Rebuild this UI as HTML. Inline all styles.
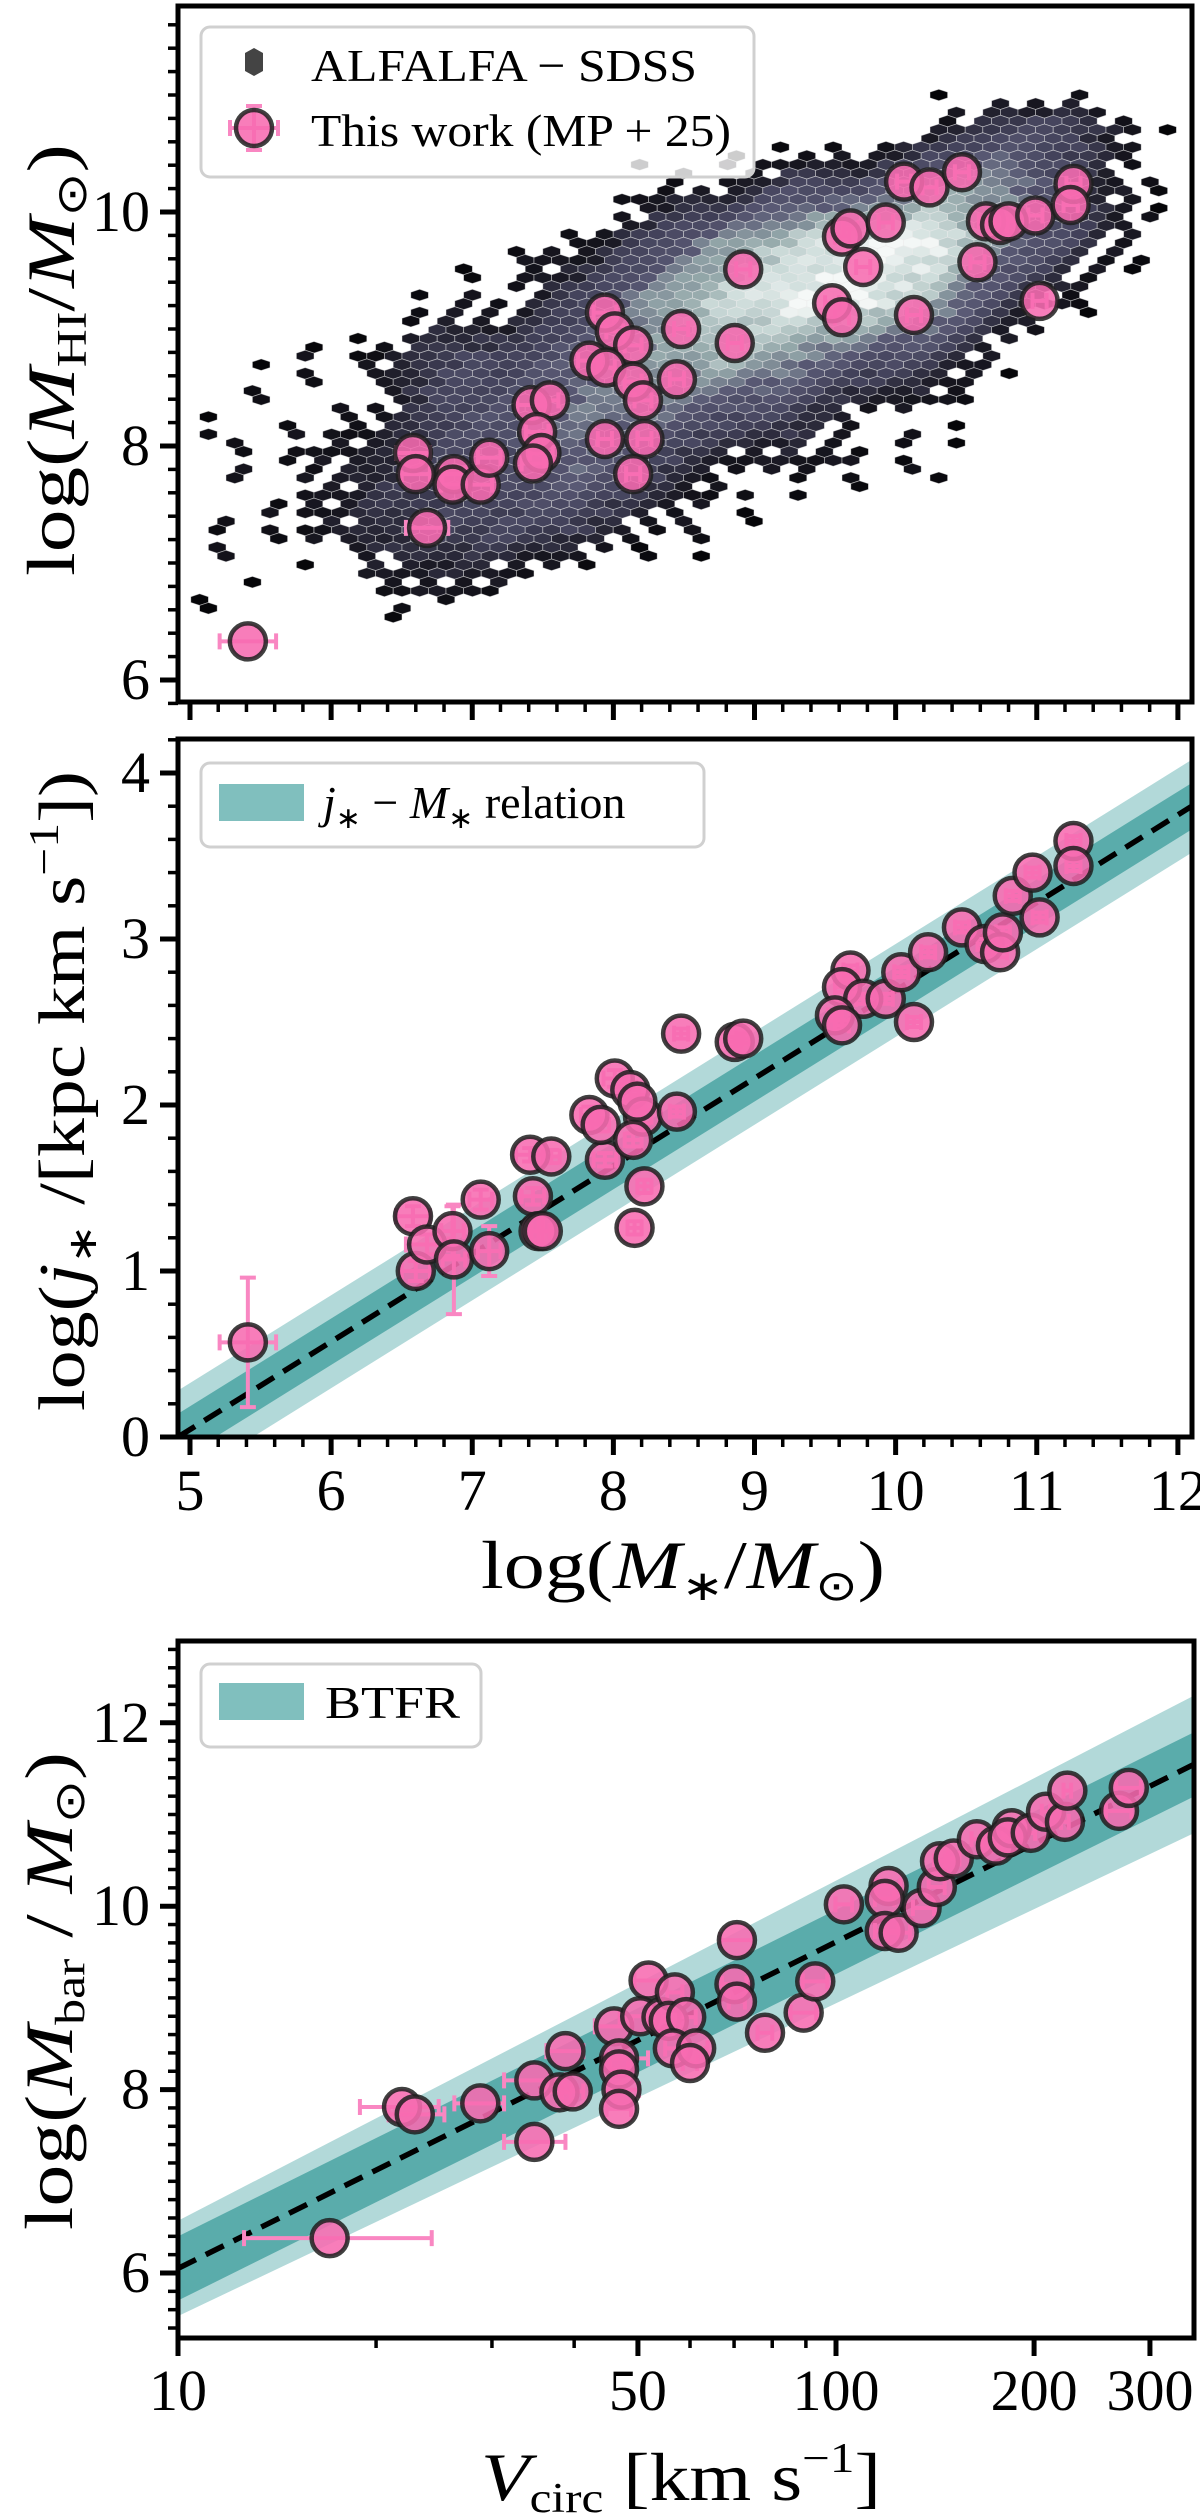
<!DOCTYPE html>
<html><head><meta charset="utf-8"><style>
html,body{margin:0;padding:0;background:#fff;}
svg{display:block;font-family:"Liberation Serif",serif;}
</style></head><body>
<svg id="fig" width="1200" height="2518" viewBox="0 0 1200 2518" xmlns="http://www.w3.org/2000/svg">
<g id="p1"></g>
<g id="p2"></g>
<g id="p3"></g>
</svg>
<script>
// ---------- DATA ----------
const mstar1 = [5.41,6.58,6.60,6.68,6.87,6.86,7.06,7.12,7.42,7.55,7.46,7.49,7.43,7.94,8.01,8.14,7.83,7.95,8.14,8.21,7.94,8.22,8.14,8.45,8.48,8.86,8.92,9.62,9.68,9.77,9.93,9.55,9.62,10.13,10.06,10.24,10.47,10.58,10.64,10.74,10.80,10.99,11.02,11.26,11.24];
const mhi1 = [6.33,7.94,7.76,7.30,7.76,7.67,7.67,7.90,8.35,8.39,8.12,7.94,7.85,9.14,8.98,8.86,8.73,8.67,8.55,8.39,8.06,8.06,7.76,8.57,9.00,8.88,9.51,9.79,9.86,9.53,9.91,9.22,9.10,9.12,10.26,10.21,10.34,9.57,9.92,9.89,9.92,9.97,9.24,10.24,10.06];
const xerr1 = [0.2,0.12,0.1,0.15,0.08,0.08,0.08,0.08,0.1,0.06,0.08,0.08,0.08,0.08,0.06,0.06,0.08,0.06,0.06,0.06,0.05,0.05,0.05,0.05,0.05,0.05,0.05,0.05,0.05,0.05,0.05,0.05,0.05,0.05,0.05,0.05,0.05,0.05,0.05,0.05,0.05,0.05,0.05,0.05,0.05];
const hexDensity = [
 [0,0,0,0,0,0,0,0,0,0,1,2,2,1],
 [0,0,0,0,0,0,1,1,2,2,3,3,2,1],
 [0,0,0,0,1,1,2,3,3.5,4,4,3,2,1],
 [0,0,0,1,1,2,3,3.6,4,4,3.4,2,1,0],
 [0,1,1,2,2,2.6,3,3.4,3,2.4,2,1,0,0],
 [1,1,1,2,2.4,2.8,2.8,2.2,2,1,1,0,0,0],
 [1,1,1.6,2,2.2,2.6,2,1,1,1,0.8,0,0,0],
 [1,1,1.6,2,2,1.8,1,1,0,0,0,0,0,0],
 [1,0,1,1.2,1,0,0,0,0,0,0,0,0,0],
 [0,0,0,0,0,0,0,0,0,0,0,0,0,0]];
const mstar2 = [5.41,6.58,6.60,6.68,6.86,6.87,7.06,7.12,7.41,7.56,7.43,7.47,7.50,8.01,8.12,7.83,7.94,7.91,8.21,8.14,8.22,8.15,8.17,8.48,8.45,8.86,8.92,9.68,9.62,9.77,9.93,9.57,9.62,10.13,10.04,10.23,10.47,10.63,10.74,10.76,10.83,10.97,11.02,11.26,11.26];
const jstar2 = [0.57,1.33,1.00,1.16,1.24,1.07,1.43,1.12,1.70,1.69,1.45,1.24,1.24,2.16,2.09,1.94,1.67,1.88,1.93,1.79,1.51,1.26,2.02,2.43,1.96,2.38,2.40,2.81,2.71,2.64,2.64,2.54,2.48,2.50,2.80,2.92,3.07,2.97,2.92,3.04,3.26,3.40,3.13,3.59,3.44];
const jerr2 = [0.39,0.06,0.06,0.06,0.15,0.33,0.06,0.15,0.04,0.04,0.05,0.08,0.08,0.05,0.05,0.05,0.04,0.04,0.04,0.04,0.04,0.04,0.04,0.03,0.03,0.03,0.03,0.03,0.03,0.03,0.03,0.03,0.03,0.03,0.03,0.03,0.03,0.03,0.03,0.03,0.03,0.03,0.03,0.03,0.03];
const relJ = {slope:0.529, zero:4.915, dark:0.14, light:0.28};
const vcirc3 = [17.0,21.9,22.9,28.8,34.8,34.8,38.8,38.0,39.8,46.0,46.8,46.8,47.2,46.8,51.9,50.4,54.3,56.9,55.7,59.2,56.5,61.3,60.0,70.7,70.1,70.7,78.0,89.3,93.0,102.8,120.2,118.6,118.6,124.5,134.9,142.3,143.9,151.0,163.7,175.0,184.9,182.4,197.7,208.5,222.8,224.7,269.2,278.6];
const mbar3 = [6.38,7.81,7.73,7.85,8.10,7.43,8.42,7.97,7.98,8.69,8.34,8.22,8.00,7.79,9.19,8.80,8.79,9.06,8.75,8.79,8.45,8.45,8.29,9.63,9.15,8.96,8.62,8.84,9.18,10.02,10.22,10.08,9.73,9.71,9.98,10.21,10.49,10.52,10.73,10.66,10.85,10.75,10.80,11.03,10.92,11.26,11.04,11.29];
const verrLo3 = [4.4,3.0,2.0,2.5,3.5,3.5,2.5,1.5,1.5,3.0,1.5,1.5,2.5,2.0,2.5,3.5,2.0,1.5,2.0,2.0,1.5,2.5,1.5,4.0,3.0,2.0,2.0,4.0,4.0,3.0,5.0,4.0,4.0,5.0,4.0,4.0,3.0,3.0,3.0,3.0,3.0,3.0,3.0,3.0,3.0,3.0,12,12];
const verrHi3 = [7.3,3.0,2.5,2.5,4.0,4.0,2.5,1.5,1.5,3.0,5.0,1.5,3.0,2.0,2.5,3.5,2.0,1.5,2.0,2.0,1.5,2.5,1.5,4.0,3.0,2.0,2.0,4.0,4.0,3.0,5.0,4.0,6.0,5.0,6.0,4.0,3.0,3.0,3.0,3.0,3.0,3.0,3.0,3.0,3.0,3.0,12,12];
const relB = {zero:6.05, slope:3.56, dark:0.35, lightLo:0.52, lightHi:0.75};

// ---------- HELPERS ----------
const NS='http://www.w3.org/2000/svg';
function mk(parent,tag,attrs){const e=document.createElementNS(NS,tag);for(const k in attrs)e.setAttribute(k,attrs[k]);parent.appendChild(e);return e;}
function lin(d0,d1,r0,r1){return v=>r0+(v-d0)*(r1-r0)/(d1-d0);}
const PINK='#f76bb1', PINKERR='#f987c2', EDGE='rgba(30,30,30,0.85)';

function frame(g,L,T,R,B){
  const f=mk(g,'rect',{x:L,y:T,width:R-L,height:B-T,fill:'none',stroke:'#000','stroke-width':5});
  
  
}
function yTicks(g,sy,L,majors,minors,labels,fs){
  minors.forEach(v=>{const t=mk(g,'line',{x1:L-10,x2:L,y1:sy(v),y2:sy(v),stroke:'#000','stroke-width':3.5});
    });
  majors.forEach((v,i)=>{const t=mk(g,'line',{x1:L-18,x2:L,y1:sy(v),y2:sy(v),stroke:'#000','stroke-width':5});
    
    if(labels){const tx=mk(g,'text',{x:L-28,y:sy(v)+19,'font-size':fs||58,'text-anchor':'end'});tx.textContent=labels[i];
      }});
}
function xTicks(g,sx,B,majors,minors,labels,fs,ly){
  minors.forEach(v=>{const t=mk(g,'line',{x1:sx(v),x2:sx(v),y1:B,y2:B+10,stroke:'#000','stroke-width':3.5});
    });
  majors.forEach((v,i)=>{const t=mk(g,'line',{x1:sx(v),x2:sx(v),y1:B,y2:B+18,stroke:'#000','stroke-width':5});
    
    if(labels){const tx=mk(g,'text',{x:sx(v),y:ly,'font-size':fs||58,'text-anchor':'middle'});tx.textContent=labels[i];
      }});
}
function errX(g,x0,x1,y){
  const e=mk(g,'path',{d:`M${x0},${y}H${x1}M${x0},${y-8}V${y+8}M${x1},${y-8}V${y+8}`,stroke:PINKERR,'stroke-width':4,fill:'none'});
  
}
function errY(g,x,y0,y1){
  const e=mk(g,'path',{d:`M${x},${y0}V${y1}M${x-8},${y0}H${x+8}M${x-8},${y1}H${x+8}`,stroke:PINKERR,'stroke-width':4,fill:'none'});
  
}
function dot(g,x,y){
  const c=mk(g,'circle',{cx:x,cy:y,r:18,fill:PINK,'fill-opacity':0.88,stroke:EDGE,'stroke-width':4.5});
  
}
function legendBox(g,x,y,w,h){
  const b=mk(g,'rect',{x:x,y:y,width:w,height:h,rx:9,fill:'rgba(255,255,255,0.8)',stroke:'#d0d0d0','stroke-width':3});
  
}
function range(a,b,s){const r=[];for(let v=a;v<=b+1e-9;v+=s)r.push(+v.toFixed(4));return r;}

// ---------- PANEL 1 ----------
(function(){
  const g=document.getElementById('p1');
  const L=178,R=1192,T=6,B=702;
  const sx=lin(4.915,12.1,L,R), sy=lin(10,8,212,446);
  const clip=mk(g,'clipPath',{id:'c1'});mk(clip,'rect',{x:L,y:T,width:R-L,height:B-T});
  const hg=mk(g,'g',{'clip-path':'url(#c1)'});
  
  const stops=[[0.6,[5,5,8]],[1.4,[28,27,38]],[2.0,[68,67,92]],[2.6,[88,88,115]],[3.2,[148,168,170]],[3.7,[205,220,218]],[4.0,[245,248,247]]];
  function col(v){if(v<=stops[0][0])return stops[0][1];for(let i=1;i<stops.length;i++){if(v<=stops[i][0]){const a=stops[i-1],b=stops[i];const t=(v-a[0])/(b[0]-a[0]);return a[1].map((c,k)=>Math.round(c+(b[1][k]-c)*t));}}return stops[stops.length-1][1];}
  function dens(x,y){
    const cx=(x-5.25)/0.5, cy=(10.75-y)/0.5;
    const c0=Math.floor(cx),r0=Math.floor(cy),tx=cx-c0,ty=cy-r0;
    const get=(r,c)=>(r<0||r>=hexDensity.length||c<0||c>=hexDensity[0].length)?0:hexDensity[r][c];
    return get(r0,c0)*(1-tx)*(1-ty)+get(r0,c0+1)*tx*(1-ty)+get(r0+1,c0)*(1-tx)*ty+get(r0+1,c0+1)*tx*ty;
  }
  const hw=8.8, hh=5.8, dx=17.6, dy=8.7;
  for(let i=0;i<80;i++){
    const py=95+i*dy; if(py>690)break;
    for(let j=0;j<60;j++){
      const px=L+4+j*dx+(i%2?dx/2:0); if(px>R)break;
      const v=dens(4.915+(px-L)*(12.1-4.915)/(R-L), 10-(py-212)/117);
      if(v<0.55)continue;
      const h=((i*928371+j*364479)%97);
      if(v<1.05 && h%4!==0)continue;
      if(v<1.5 && h%3===0)continue;
      const c=col(v+((h%5)-2)*0.08);
      const p=mk(hg,'polygon',{points:`${px},${py-hh} ${px+hw},${py-hh/2} ${px+hw},${py+hh/2} ${px},${py+hh} ${px-hw},${py+hh/2} ${px-hw},${py-hh/2}`,fill:`rgb(${c})`,stroke:'rgba(235,235,235,0.55)','stroke-width':0.8});
      
      
    }
  }
  const pg=mk(g,'g',{});
  mstar1.forEach((m,i)=>{errX(pg,sx(m-xerr1[i]),sx(m+xerr1[i]),sy(mhi1[i]));});
  mstar1.forEach((m,i)=>dot(pg,sx(m),sy(mhi1[i])));
  frame(g,L,T,R,B);
  yTicks(g,sy,L,[6,8,10],range(5.8,11.6,0.2).filter(v=>Math.abs(v%2)>0.01&&Math.abs(v%2-2)>0.01),['6','8','10']);
  xTicks(g,sx,B,[5,6,7,8,9,10,11,12],range(5,12,0.2),null);
  legendBox(g,201,27,553,150);
  const hx=mk(g,'polygon',{points:'254,48 263,53 263,71 254,76 245,71 245,53',fill:'#444'});
  
  const t1=mk(g,'text',{x:311,y:81,'font-size':46,textLength:386,lengthAdjust:'spacingAndGlyphs'});t1.textContent='ALFALFA − SDSS';
  
  errX(g,230,278,128);errY(g,254,106,150);dot(g,254,128);
  const t2=mk(g,'text',{x:311,y:146,'font-size':46,textLength:420,lengthAdjust:'spacingAndGlyphs'});t2.textContent='This work (MP + 25)';
  
  const yl=mk(g,'text',{x:0,y:0,'font-size':68,'text-anchor':'middle',transform:'translate(74,360) rotate(-90)',textLength:432,lengthAdjust:'spacingAndGlyphs'});
  yl.innerHTML='log(<tspan font-style="italic">M</tspan><tspan font-size="42" dy="12">HI</tspan><tspan dy="-12">/</tspan><tspan font-style="italic">M</tspan><tspan font-size="42" dy="12">⊙</tspan><tspan dy="-12">)</tspan>';
  
})();

// ---------- PANEL 2 ----------
(function(){
  const g=document.getElementById('p2');
  const L=178,R=1192,T=739,B=1437;
  const sx=lin(4.915,12.1,L,R), sy=lin(0,4,B,B-664);
  const clip=mk(g,'clipPath',{id:'c2'});mk(clip,'rect',{x:L,y:T,width:R-L,height:B-T});
  const bg=mk(g,'g',{'clip-path':'url(#c2)'});
  const x0=4.915,x1=12.1, f=m=>relJ.slope*(m-relJ.zero);
  function band(w,color,name){const p=mk(bg,'polygon',{points:`${sx(x0)},${sy(f(x0)+w)} ${sx(x1)},${sy(f(x1)+w)} ${sx(x1)},${sy(f(x1)-w)} ${sx(x0)},${sy(f(x0)-w)}`,fill:color});
    }
  band(relJ.light,'#b2d9d9','relation-outer-band');
  band(relJ.dark,'#5aacab','relation-inner-band');
  const ln=mk(bg,'line',{x1:sx(x0),y1:sy(f(x0)),x2:sx(x1),y2:sy(f(x1)),stroke:'#000','stroke-width':5.5,'stroke-dasharray':'20,11'});
  
  mstar2.forEach((m,i)=>{errX(bg,sx(m-xerr1[i]),sx(m+xerr1[i]),sy(jstar2[i]));errY(bg,sx(m),sy(jstar2[i]-jerr2[i]),sy(jstar2[i]+jerr2[i]));});
  mstar2.forEach((m,i)=>dot(bg,sx(m),sy(jstar2[i])));
  frame(g,L,T,R,B);
  yTicks(g,sy,L,[0,1,2,3,4],range(0,4.2,0.2).filter(v=>Math.abs(v-Math.round(v))>0.01),['0','1','2','3','4']);
  xTicks(g,sx,B,[5,6,7,8,9,10,11,12],range(5,12,0.2),['5','6','7','8','9','10','11','12'],58,1510);
  legendBox(g,201,763,503,84);
  const sw=mk(g,'rect',{x:219,y:784,width:85,height:37,fill:'#80bfbe'});
  
  const t=mk(g,'text',{x:323,y:818,'font-size':46});
  t.innerHTML='<tspan font-style="italic">j</tspan><tspan font-size="30" dy="10">∗</tspan><tspan dy="-10"> − </tspan><tspan font-style="italic">M</tspan><tspan font-size="30" dy="10">∗</tspan><tspan dy="-10"> relation</tspan>';
  
  const yl=mk(g,'text',{x:0,y:0,'font-size':66,'text-anchor':'middle',transform:'translate(84,1091) rotate(-90)',textLength:640,lengthAdjust:'spacingAndGlyphs'});
  yl.innerHTML='log(<tspan font-style="italic">j</tspan><tspan font-size="40" dy="12">∗</tspan><tspan dy="-12"> /[kpc km s</tspan><tspan font-size="42" dy="-26">−1</tspan><tspan dy="26">])</tspan>';
  
  const xl=mk(g,'text',{x:683,y:1588,'font-size':68,'text-anchor':'middle',textLength:404,lengthAdjust:'spacingAndGlyphs'});
  xl.innerHTML='log(<tspan font-style="italic">M</tspan><tspan font-size="42" dy="12">∗</tspan><tspan dy="-12">/</tspan><tspan font-style="italic">M</tspan><tspan font-size="42" dy="12">⊙</tspan><tspan dy="-12">)</tspan>';
  
})();

// ---------- PANEL 3 ----------
(function(){
  const g=document.getElementById('p3');
  const L=178,R=1194,T=1641,B=2338;
  const lx=lin(1,2,L,L+658), sx=v=>lx(Math.log10(v)), sy=lin(6,8,2273,2089.6);
  const clip=mk(g,'clipPath',{id:'c3'});mk(clip,'rect',{x:L,y:T,width:R-L,height:B-T});
  const bg=mk(g,'g',{'clip-path':'url(#c3)'});
  const a=1,b=2.544, f=l=>relB.zero+relB.slope*(l-1), wl=l=>relB.lightLo+(relB.lightHi-relB.lightLo)*(l-a)/(b-a);
  function band(wa,wb,color,name){const p=mk(bg,'polygon',{points:`${lx(a)},${sy(f(a)+wa)} ${lx(b)},${sy(f(b)+wb)} ${lx(b)},${sy(f(b)-wb)} ${lx(a)},${sy(f(a)-wa)}`,fill:color});
    }
  band(wl(a),wl(b),'#b2d9d9','btfr-outer-band');
  band(relB.dark,relB.dark,'#5aacab','btfr-inner-band');
  const ln=mk(bg,'line',{x1:lx(a),y1:sy(f(a)),x2:lx(b),y2:sy(f(b)),stroke:'#000','stroke-width':5.5,'stroke-dasharray':'20,11'});
  
  vcirc3.forEach((v,i)=>errX(bg,sx(v-verrLo3[i]),sx(v+verrHi3[i]),sy(mbar3[i])));
  vcirc3.forEach((v,i)=>dot(bg,sx(v),sy(mbar3[i])));
  frame(g,L,T,R,B);
  yTicks(g,sy,L,[6,8,10,12],range(5.4,12.8,0.2).filter(v=>Math.abs(v/2-Math.round(v/2))>0.01),['6','8','10','12']);
  xTicks(g,sx,B,[10,50,100,200,300],[20,30,40,60,70,80,90],['10','50','100','200','300'],58,2410);
  legendBox(g,201,1664,280,83);
  const sw=mk(g,'rect',{x:219,y:1683,width:85,height:37,fill:'#80bfbe'});
  
  const t=mk(g,'text',{x:325,y:1718,'font-size':46,textLength:135,lengthAdjust:'spacingAndGlyphs'});t.textContent='BTFR';
  
  const yl=mk(g,'text',{x:0,y:0,'font-size':68,'text-anchor':'middle',transform:'translate(72,1991) rotate(-90)',textLength:478,lengthAdjust:'spacingAndGlyphs'});
  yl.innerHTML='log(<tspan font-style="italic">M</tspan><tspan font-size="42" dy="12">bar</tspan><tspan dy="-12"> / </tspan><tspan font-style="italic">M</tspan><tspan font-size="42" dy="12">⊙</tspan><tspan dy="-12">)</tspan>';
  
  const xl=mk(g,'text',{x:681,y:2500,'font-size':68,'text-anchor':'middle',textLength:400,lengthAdjust:'spacingAndGlyphs'});
  xl.innerHTML='<tspan font-style="italic">V</tspan><tspan font-size="42" dy="12">circ</tspan><tspan dy="-12"> [km s</tspan><tspan font-size="42" dy="-28">−1</tspan><tspan dy="28">]</tspan>';
  
})();
</script>
</body></html>
